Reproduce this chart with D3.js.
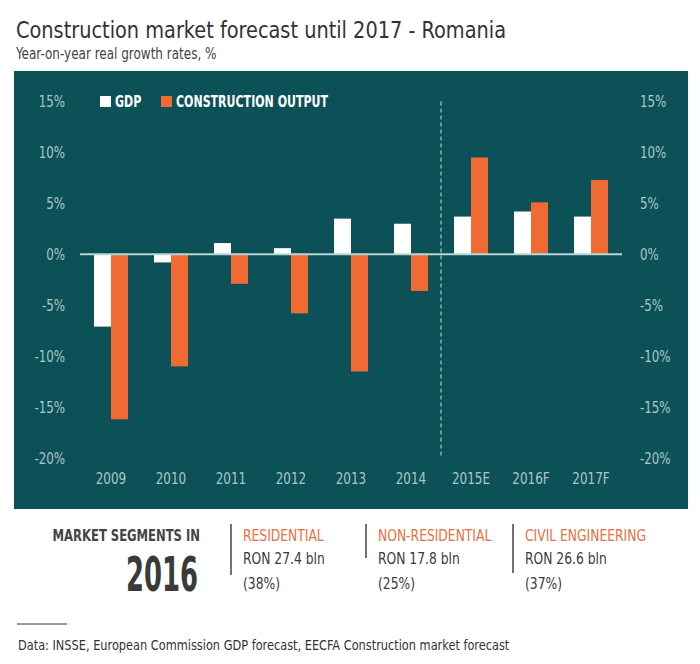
<!DOCTYPE html>
<html>
<head>
<meta charset="utf-8">
<script src="https://cdn.jsdelivr.net/npm/d3@7"></script>
<style>
  html, body { margin: 0; padding: 0; background: #ffffff; }
  svg { display: block; }
  .cond { font-family: "DejaVu Sans Condensed", "DejaVu Sans", sans-serif; font-stretch: condensed; }
</style>
</head>
<body>
<svg id="chart" width="700" height="664"></svg>
<script>
// ---- data ----
const categories = ["2009", "2010", "2011", "2012", "2013", "2014", "2015E", "2016F", "2017F"];
const gdpValues = [-7.1, -0.8, 1.1, 0.6, 3.5, 3.0, 3.7, 4.2, 3.7];
const constructionValues = [-16.2, -11.0, -2.9, -5.8, -11.5, -3.6, 9.5, 5.1, 7.3];
const seriesNames = ["GDP", "CONSTRUCTION OUTPUT"];
const yTicks = [15, 10, 5, 0, -5, -10, -15, -20];
const forecastStart = "2015E";
const segmentNames = ["RESIDENTIAL", "NON-RESIDENTIAL", "CIVIL ENGINEERING"];
const segmentValues = ["RON 27.4 bln", "RON 17.8 bln", "RON 26.6 bln"];
const segmentShares = ["(38%)", "(25%)", "(37%)"];

const COL_BG = "#0c5157";
const COL_GDP = "#ffffff";
const COL_CON = "#f26a33";
const COL_AXIS = "#a9c7c7";
const COL_ZERO = "#b9d6d6";

// horizontally compress text to mimic the narrow typeface of the original
function squeeze(sel, f) {
  sel.each(function () {
    const w = this.getComputedTextLength();
    this.setAttribute("textLength", (w * f).toFixed(1));
    this.setAttribute("lengthAdjust", "spacingAndGlyphs");
  });
  return sel;
}

const svg = d3.select("#chart");

// title
squeeze(svg.append("text").attr("x", 16).attr("y", 38).attr("class", "cond")
  .attr("font-size", 22.5).attr("fill", "#333")
  .text("Construction market forecast until 2017 - Romania"), 0.955);
squeeze(svg.append("text").attr("x", 16).attr("y", 59).attr("class", "cond")
  .attr("font-size", 15).attr("fill", "#444")
  .text("Year-on-year real growth rates, %"), 0.89);

// panel
svg.append("rect").attr("x", 14).attr("y", 71).attr("width", 674).attr("height", 438).attr("fill", COL_BG);

const x0 = d3.scaleBand().domain(categories).range([81, 621]).paddingInner(0).paddingOuter(0);
const x1 = d3.scaleBand().domain(seriesNames).range([x0.bandwidth() / 2 - 17, x0.bandwidth() / 2 + 17]).padding(0);
const y = d3.scaleLinear().domain([-20, 15]).range([458, 101.5]);

// axes
const yLeft = d3.axisLeft(y).tickValues(yTicks).tickSize(0).tickPadding(0).tickFormat(d => d + "%");
const yRight = d3.axisRight(y).tickValues(yTicks).tickSize(0).tickPadding(0).tickFormat(d => d + "%");
const gl = svg.append("g").attr("transform", "translate(65,0)").call(yLeft);
const gr = svg.append("g").attr("transform", "translate(640,0)").call(yRight);
[gl, gr].forEach(g => {
  g.select(".domain").remove();
  g.attr("font-family", null).attr("font-size", null);
  squeeze(g.selectAll("text").attr("class", "cond").attr("font-size", 15.5).attr("fill", COL_AXIS).attr("dy", "0.35em"), 0.85);
});

const xAxis = d3.axisBottom(x0).tickSize(0).tickPadding(0);
const gx = svg.append("g").attr("transform", "translate(0,473)").call(xAxis);
gx.select(".domain").remove();
gx.attr("font-family", null).attr("font-size", null);
squeeze(gx.selectAll("text").attr("class", "cond").attr("font-size", 15.5).attr("fill", COL_AXIS).attr("dy", "0.71em"), 0.86);

// forecast divider
const divX = x0(forecastStart);
svg.append("line").attr("x1", divX).attr("x2", divX).attr("y1", y(15)).attr("y2", y(-20))
  .attr("stroke", "#c9dede").attr("stroke-width", 1).attr("stroke-dasharray", "4,3");

// bars
const rows = categories.map((c, i) => ({ cat: c, vals: [gdpValues[i], constructionValues[i]] }));
const groups = svg.append("g").selectAll("g").data(rows).join("g")
  .attr("transform", d => `translate(${x0(d.cat)},0)`);
groups.selectAll("rect").data(d => d.vals.map((v, j) => ({ name: seriesNames[j], v })))
  .join("rect")
  .attr("x", d => x1(d.name))
  .attr("width", x1.bandwidth())
  .attr("y", d => y(Math.max(0, d.v)))
  .attr("height", d => Math.abs(y(d.v) - y(0)))
  .attr("fill", d => d.name === "GDP" ? COL_GDP : COL_CON);

// zero line
svg.append("line").attr("x1", x0.range()[0] - 1).attr("x2", x0.range()[1] + 1).attr("y1", y(0)).attr("y2", y(0))
  .attr("stroke", COL_ZERO).attr("stroke-width", 2);

// legend
const leg = svg.append("g");
const legX = [100, 161];
seriesNames.forEach((n, i) => {
  leg.append("rect").attr("x", legX[i]).attr("y", 96).attr("width", 11).attr("height", 11)
    .attr("fill", i === 0 ? COL_GDP : COL_CON);
  squeeze(leg.append("text").attr("x", legX[i] + 15).attr("y", 107).attr("class", "cond")
    .attr("font-size", 15.5).attr("font-weight", "bold").attr("fill", "#fff").text(n), 0.79);
});

// bottom section
squeeze(svg.append("text").attr("x", 200).attr("y", 541).attr("text-anchor", "end").attr("class", "cond")
  .attr("font-size", 16.5).attr("font-weight", "bold").attr("fill", "#444").text("MARKET SEGMENTS IN"), 0.78);
squeeze(svg.append("text").attr("x", 198).attr("y", 591).attr("text-anchor", "end").attr("class", "cond")
  .attr("font-size", 48).attr("font-weight", "bold").attr("fill", "#3a3a3a").text("2016"), 0.6);

const segX = [231, 366, 513];
const segLineEnd = [575, 558, 573];
segmentNames.forEach((n, i) => {
  svg.append("line").attr("x1", segX[i]).attr("x2", segX[i]).attr("y1", 524).attr("y2", segLineEnd[i])
    .attr("stroke", "#444").attr("stroke-width", 1.5);
  squeeze(svg.append("text").attr("x", segX[i] + 12).attr("y", 541).attr("class", "cond")
    .attr("font-size", 16.5).attr("fill", "#e8703f").text(n), 0.83);
  squeeze(svg.append("text").attr("x", segX[i] + 12).attr("y", 564).attr("class", "cond")
    .attr("font-size", 16).attr("fill", "#3a3a3a").text(segmentValues[i]), 0.855);
  squeeze(svg.append("text").attr("x", segX[i] + 12).attr("y", 589).attr("class", "cond")
    .attr("font-size", 16).attr("fill", "#3a3a3a").text(segmentShares[i]), 0.855);
});

// footer
svg.append("line").attr("x1", 17).attr("x2", 67).attr("y1", 624).attr("y2", 624).attr("stroke", "#333").attr("stroke-width", 1);
squeeze(svg.append("text").attr("x", 18).attr("y", 650).attr("class", "cond")
  .attr("font-size", 14.5).attr("fill", "#333")
  .text("Data: INSSE, European Commission GDP forecast, EECFA Construction market forecast"), 0.87);
</script>
</body>
</html>
